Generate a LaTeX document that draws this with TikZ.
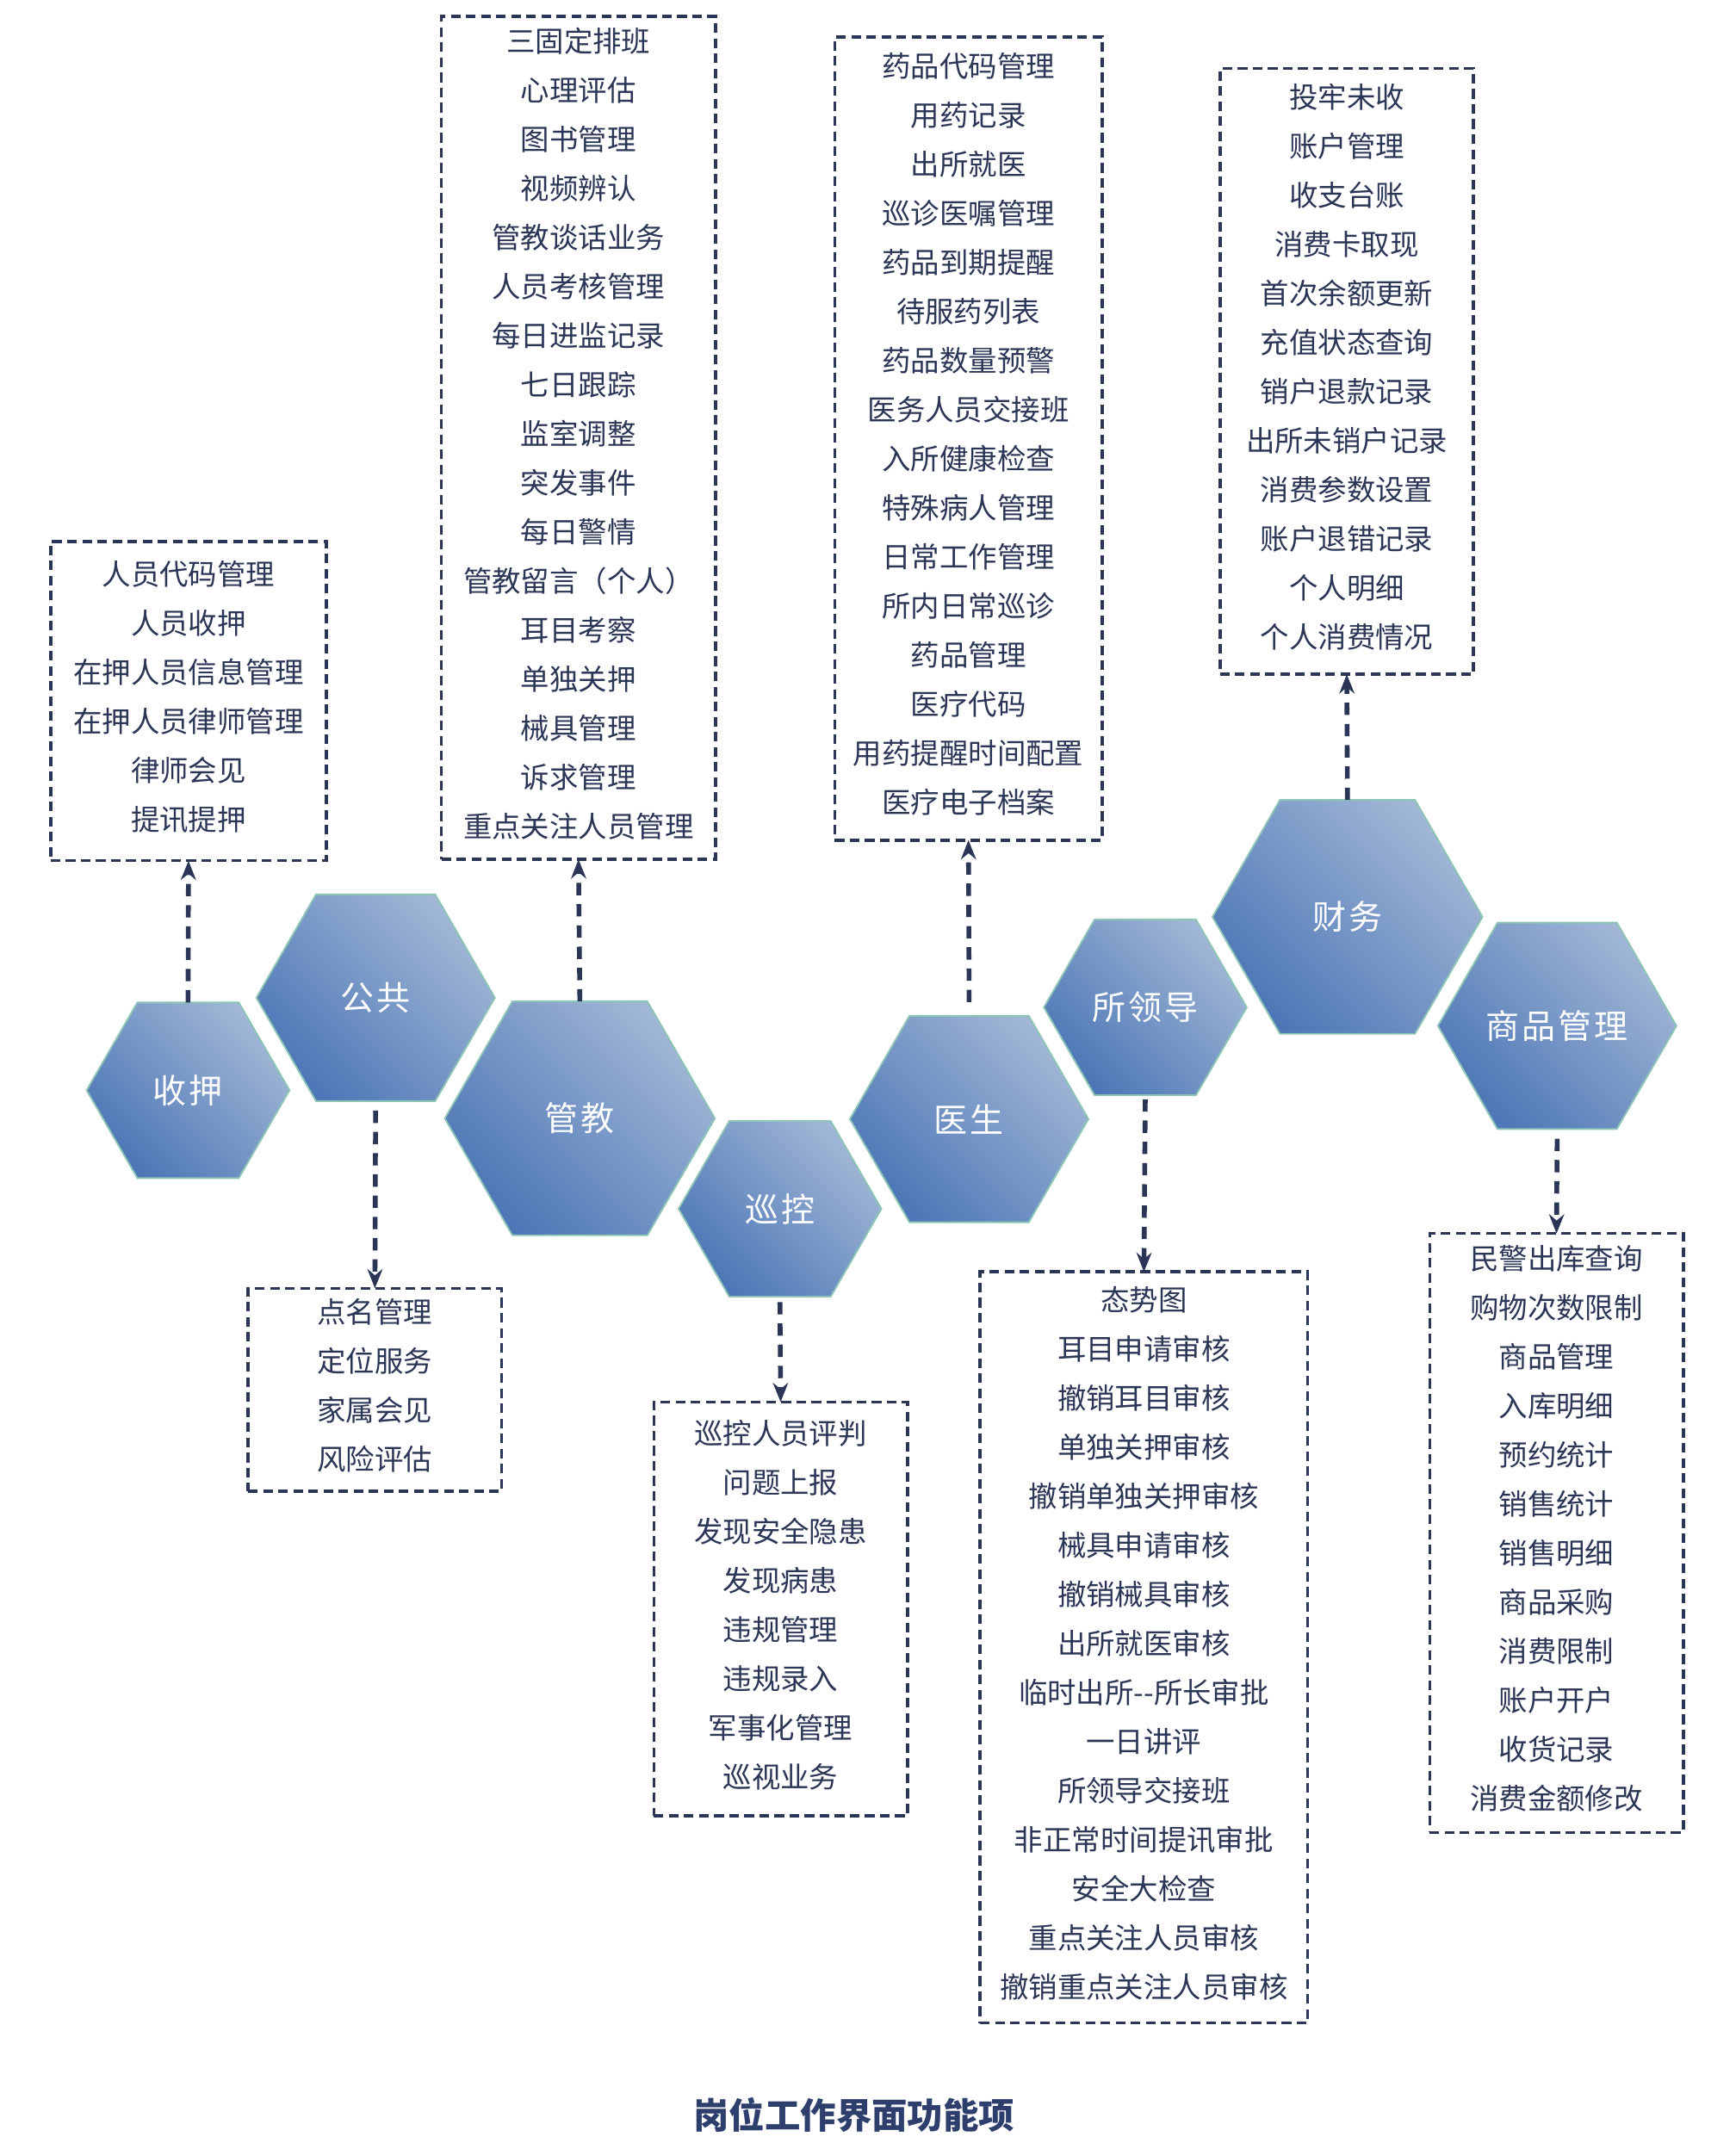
\documentclass[tikz,border=0pt]{standalone}
\usepackage{fontspec}
\setmainfont{Noto Sans CJK SC}
\usetikzlibrary{arrows.meta}
\definecolor{navy}{HTML}{2B3556}
\definecolor{hexdark}{HTML}{4C76B6}
\definecolor{hexlight}{HTML}{A2B7D6}
\definecolor{hexedge}{HTML}{8CC5B6}
\definecolor{titleblue}{HTML}{2E3F6E}
\tikzset{
 hexfill/.style={top color=hexlight, bottom color=hexdark, shading angle=-45, draw=hexedge, line width=1.2pt},
 hexlabel/.style={text=white, font=\fontsize{24.5}{28}\selectfont\addfontfeature{LetterSpace=8}, inner sep=0pt},
 listframe/.style={draw=navy, line width=2.2pt, dash pattern=on 7pt off 4pt, inner sep=0pt, outer sep=0pt},
 listtext/.style={align=center, text=navy, font=\fontsize{21}{35.8}\selectfont, inner sep=0pt},
 link/.style={draw=navy, line width=3.5pt, dash pattern=on 9pt off 6.5pt, -{Stealth[length=14pt,width=11pt]}},
 titlestyle/.style={text=titleblue, font=\bfseries\fontsize{26}{30}\selectfont},
}
\newcommand\hexnode[5]{%
 \shade[hexfill] ({#2-#4/2},{-#3}) -- ({#2-#4/4},{-#3+0.433*#4}) -- ({#2+#4/4},{-#3+0.433*#4}) -- ({#2+#4/2},{-#3}) -- ({#2+#4/4},{-#3-0.433*#4}) -- ({#2-#4/4},{-#3-0.433*#4}) -- cycle;
 \node[hexlabel] (#1) at (#2,-#3) {#5};
 \coordinate (#1-t) at (#2,{-#3+0.433*#4});
 \coordinate (#1-b) at (#2,{-#3-0.433*#4});
}
% name, cx, cy (positive down), width, height, text
\newcommand\listnode[6]{%
 \node[listframe, minimum width=#4pt, minimum height=#5pt] (#1) at (#2,-#3) {};
 \node[listtext] (#1-txt) at (#2,{-#3+3}) {#6};
}
\begin{document}
\begin{tikzpicture}[x=1pt,y=1pt]
\useasboundingbox (0,0) rectangle (1266,-1568);
\fill[white] (0,0) rectangle (1266,-1568);

\hexnode{hA}{137.2}{795.5}{148}{收押}
\hexnode{hB}{274}{728}{174}{公共}
\hexnode{hC}{423}{816}{197}{管教}
\hexnode{hD}{569}{882}{148}{巡控}
\hexnode{hE}{707}{816.5}{174}{医生}
\hexnode{hF}{835.5}{735}{148}{所领导}
\hexnode{hG}{983}{669}{197}{财务}
\hexnode{hH}{1136}{748.5}{174}{商品管理}

\listnode{bA}{137.5}{511.5}{201}{233}
 {人员代码管理\\人员收押\\在押人员信息管理\\在押人员律师管理\\律师会见\\提讯提押}
\listnode{bB}{273.5}{1014}{185}{148}
 {点名管理\\定位服务\\家属会见\\风险评估}
\listnode{bC}{422}{319.5}{200}{615}
 {三固定排班\\心理评估\\图书管理\\视频辨认\\管教谈话业务\\人员考核管理\\每日进监记录\\七日跟踪\\监室调整\\突发事件\\每日警情\\管教留言（个人）\\耳目考察\\单独关押\\械具管理\\诉求管理\\重点关注人员管理}
\listnode{bD}{569.5}{1174}{185}{302}
 {巡控人员评判\\问题上报\\发现安全隐患\\发现病患\\违规管理\\违规录入\\军事化管理\\巡视业务}
\listnode{bE}{706.5}{320}{195}{586}
 {药品代码管理\\用药记录\\出所就医\\巡诊医嘱管理\\药品到期提醒\\待服药列表\\药品数量预警\\医务人员交接班\\入所健康检查\\特殊病人管理\\日常工作管理\\所内日常巡诊\\药品管理\\医疗代码\\用药提醒时间配置\\医疗电子档案}
\listnode{bF}{834.5}{1202}{239}{548}
 {态势图\\耳目申请审核\\撤销耳目审核\\单独关押审核\\撤销单独关押审核\\械具申请审核\\撤销械具审核\\出所就医审核\\临时出所{-}{-}所长审批\\一日讲评\\所领导交接班\\非正常时间提讯审批\\安全大检查\\重点关注人员审核\\撤销重点关注人员审核}
\listnode{bG}{982.5}{271}{185}{442}
 {投牢未收\\账户管理\\收支台账\\消费卡取现\\首次余额更新\\充值状态查询\\销户退款记录\\出所未销户记录\\消费参数设置\\账户退错记录\\个人明细\\个人消费情况}
\listnode{bH}{1135.5}{1118.5}{185}{437}
 {民警出库查询\\购物次数限制\\商品管理\\入库明细\\预约统计\\销售统计\\销售明细\\商品采购\\消费限制\\账户开户\\收货记录\\消费金额修改}

\draw[link] (hA-t) -- (bA.south);
\draw[link] ([yshift=-7pt]hB-b) -- (bB.north);
\draw[link] (hC-t) -- (bC.south);
\draw[link] ([yshift=-4pt]hD-b) -- (bD.north);
\draw[link] ([yshift=10pt]hE-t) -- (bE.south);
\draw[link] ([yshift=-3pt]hF-b) -- (bF.north);
\draw[link] (hG-t) -- (bG.south);
\draw[link] ([yshift=-7pt]hH-b) -- (bH.north);

\node[titlestyle] (title) at (623,-1543) {岗位工作界面功能项};
\end{tikzpicture}
\end{document}
